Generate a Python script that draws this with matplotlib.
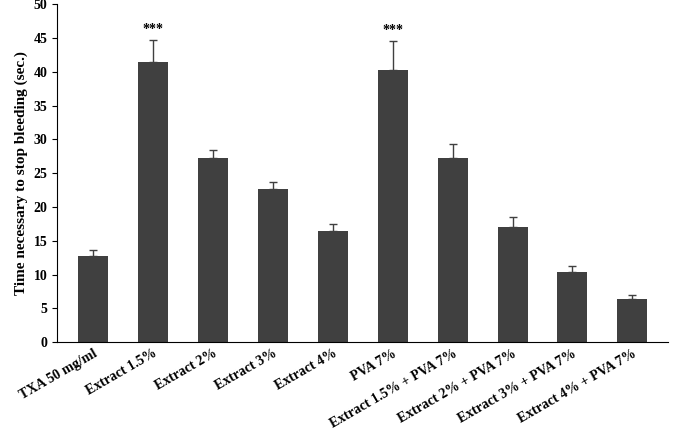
import numpy as np
import matplotlib
matplotlib.use("Agg")
import matplotlib.pyplot as plt

plt.rcParams["font.family"] = ["Liberation Serif", "DejaVu Serif"]

labels = ["TXA 50 mg/ml", "Extract 1.5%", "Extract 2%", "Extract 3%", "Extract 4%",
          "PVA 7%", "Extract 1.5% + PVA 7%", "Extract 2% + PVA 7%",
          "Extract 3% + PVA 7%", "Extract 4% + PVA 7%"]
means = [12.8, 41.5, 27.2, 22.6, 16.4, 40.3, 27.2, 17.1, 10.3, 6.4]
errs = [0.8, 3.2, 1.2, 1.1, 1.1, 4.2, 2.1, 1.4, 1.0, 0.5]
stars = ["", "***", "", "", "", "***", "", "", "", ""]

fig, ax = plt.subplots(figsize=(6.75, 4.33), dpi=100)
x = np.arange(len(labels))
ax.bar(x, means, width=0.5, color="#404040", zorder=2)
ax.errorbar(x, means, yerr=[np.zeros(len(errs)), errs], fmt="none",
            ecolor="#404040", elinewidth=1, capsize=3, zorder=3)
for xi, m, e, s in zip(x, means, errs, stars):
    if s:
        ax.text(xi, m + e + 0.6, s, ha="center", va="bottom", fontsize=10, fontweight="bold")

ax.set_ylim(0, 50)
ax.set_yticks(range(0, 51, 5))
ax.set_xlim(-0.6, len(labels) - 0.4)
ax.set_xticks(x)
ax.set_xticklabels(labels, rotation=30, ha="right", rotation_mode="anchor",
                   fontsize=10, fontweight="bold")
for t in ax.get_yticklabels():
    t.set_fontweight("bold")
ax.set_ylabel("Time necessary to stop bleeding (sec.)", fontsize=11, fontweight="bold")
ax.spines["top"].set_visible(False)
ax.spines["right"].set_visible(False)
ax.tick_params(axis="x", length=0)
ax.tick_params(axis="y", direction="out", labelsize=10)

fig.subplots_adjust(left=0.085, right=0.99, top=0.99, bottom=0.21)
fig.savefig("out.png")
